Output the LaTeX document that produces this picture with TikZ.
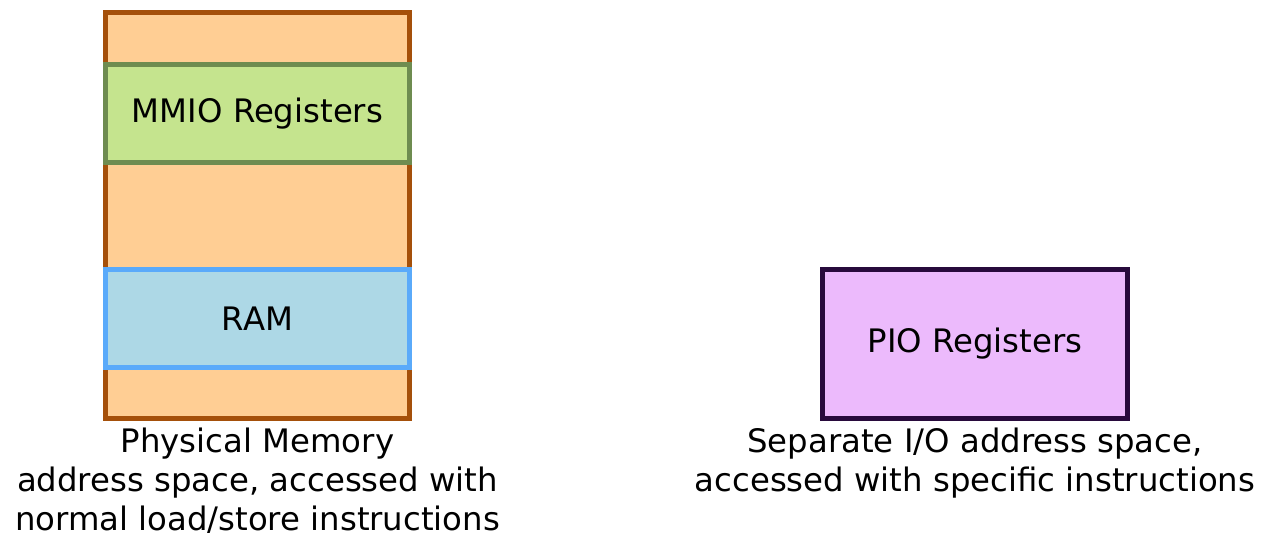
\documentclass[tikz,border=0pt]{standalone}
\usepackage{fontspec}
\setmainfont{DejaVu Sans}
\usetikzlibrary{positioning}

\definecolor{memfill}{RGB}{255,206,148}
\definecolor{memdraw}{RGB}{165,80,10}
\definecolor{mmiofill}{RGB}{197,228,142}
\definecolor{mmiodraw}{RGB}{110,140,80}
\definecolor{ramfill}{RGB}{173,216,230}
\definecolor{ramdraw}{RGB}{90,170,250}
\definecolor{piofill}{RGB}{236,186,252}
\definecolor{piodraw}{RGB}{40,10,60}

\begin{document}
\begin{tikzpicture}[font=\fontsize{18.4}{22.4}\selectfont]
 % styles for the regions and the captions
 \tikzset{
region/.style = {draw, rectangle, line width=0.11cm, minimum width=6.08cm, minimum height=1.96cm, inner sep=0pt},
caption/.style = {align=center, inner sep=0pt},
}
 \useasboundingbox (0,0) rectangle (25.24,10.76);

 % physical memory with its two regions
 \node [region, fill=memfill, draw=memdraw, minimum height=8.12cm] (mem) at (5.15,6.45) {};
 \node [region, fill=mmiofill, draw=mmiodraw] (mmio) at (5.15,8.49) {MMIO Registers};
 \node [region, fill=ramfill, draw=ramdraw] (ram) at (5.15,4.39) {RAM};
 \node [caption, below=0.12cm of mem] (memlabel) {Physical Memory\\address space, accessed with\\normal load/store instructions};

 % separate I/O space
 \node [region, fill=piofill, draw=piodraw, minimum width=6.1cm, minimum height=2.98cm] (pio) at (19.5,3.88) {PIO Registers};
 \node [caption, below=0.12cm of pio] (piolabel) {Separate I/O address space,\\accessed with specific instructions};

\end{tikzpicture}
\end{document}
